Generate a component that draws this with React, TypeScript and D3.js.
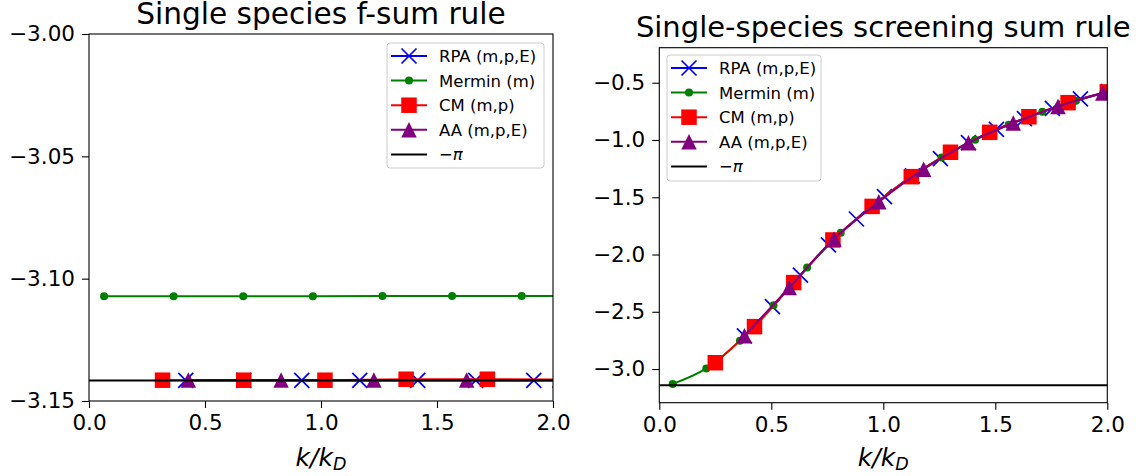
import React, { useEffect, useRef } from "react";
import * as d3 from "d3";

const width = 1138,
  height = 476;

const kTicks = [0, 0.5, 1.0, 1.5, 2.0];

// left panel: single species f-sum rule
const fsumYTicks = [-3.15, -3.1, -3.05, -3.0];
const fsumRpaK = [0.417, 0.667, 0.917, 1.167, 1.417, 1.667, 1.917, 2.167];
const fsumRpa = [-3.1416, -3.1416, -3.1416, -3.1416, -3.1416, -3.1416, -3.1416, -3.1416];
const fsumMerminK = [0.065, 0.365, 0.665, 0.965, 1.265, 1.565, 1.865, 2.165];
const fsumMermin = [-3.1072, -3.1072, -3.1072, -3.1072, -3.1071, -3.1071, -3.1071, -3.1071];
const fsumCmK = [0.317, 0.667, 1.017, 1.367, 1.717, 2.067];
const fsumCm = [-3.1415, -3.1415, -3.1415, -3.1411, -3.1411, -3.1412];
const fsumAaK = [0.428, 0.828, 1.228, 1.628, 2.028];
const fsumAa = [-3.1414, -3.1414, -3.1414, -3.1414, -3.1414];

// right panel: single-species screening sum rule
const scrYTicks = [-3.0, -2.5, -2.0, -1.5, -1.0, -0.5];
const scrRpaK = [0.38, 0.505, 0.63, 0.755, 0.88, 1.005, 1.13, 1.255, 1.38, 1.505, 1.63, 1.755, 1.88, 2.005];
const scrRpa = [-2.71, -2.455, -2.18, -1.915, -1.69, -1.495, -1.313, -1.163, -1.023, -0.908, -0.813, -0.723, -0.641, -0.577];
const scrMerminK = [0.06, 0.21, 0.36, 0.51, 0.66, 0.81, 0.96, 1.11, 1.26, 1.41, 1.56, 1.71, 1.86, 2.01];
const scrMermin = [-3.13, -2.995, -2.753, -2.443, -2.113, -1.81, -1.564, -1.341, -1.152, -0.998, -0.866, -0.754, -0.658, -0.575];
const scrCmK = [0.25, 0.425, 0.6, 0.775, 0.95, 1.125, 1.3, 1.475, 1.65, 1.825, 2.0];
const scrCm = [-2.945, -2.63, -2.245, -1.873, -1.58, -1.32, -1.107, -0.933, -0.797, -0.674, -0.58];
const scrAaK = [0.38, 0.58, 0.78, 0.98, 1.18, 1.38, 1.58, 1.78, 1.98, 2.18];
const scrAa = [-2.71, -2.289, -1.864, -1.54, -1.255, -1.025, -0.852, -0.707, -0.59, -0.49];

const legendLabels = ["RPA (m,p,E)", "Mermin (m)", "CM (m,p)", "AA (m,p,E)"];
const colors = ["#0000ff", "#008000", "#ff0000", "#800080"];
const markers = ["x", "dot", "square", "triangle"];

const FONT = "DejaVu Sans, sans-serif";

function drawMarker(g, type, cx, cy, color) {
  if (type === "x") {
    const h = 7.5;
    g.append("path")
      .attr("d", `M${cx - h},${cy - h}L${cx + h},${cy + h}M${cx - h},${cy + h}L${cx + h},${cy - h}`)
      .attr("stroke", color)
      .attr("stroke-width", 1.7)
      .attr("fill", "none");
  } else if (type === "dot") {
    g.append("circle").attr("cx", cx).attr("cy", cy).attr("r", 4).attr("fill", color);
  } else if (type === "square") {
    g.append("rect")
      .attr("x", cx - 7.75)
      .attr("y", cy - 7.75)
      .attr("width", 15.5)
      .attr("height", 15.5)
      .attr("fill", color);
  } else {
    const h = 7.75;
    g.append("path")
      .attr("d", `M${cx},${cy - h}L${cx - h},${cy + h}L${cx + h},${cy + h}Z`)
      .attr("fill", color);
  }
}

function drawPanel(svg, p) {
  const x = d3.scaleLinear().domain([0, 2]).range([p.left, p.right]);
  const y = d3.scaleLinear().domain(p.yDomain).range([p.bottom, p.top]);

  svg
    .append("clipPath")
    .attr("id", p.id)
    .append("rect")
    .attr("x", p.left)
    .attr("y", p.top)
    .attr("width", p.right - p.left)
    .attr("height", p.bottom - p.top);

  const plot = svg.append("g").attr("clip-path", `url(#${p.id})`);
  const line = d3
    .line()
    .x((d) => x(d[0]))
    .y((d) => y(d[1]))
    .curve(p.smooth ? d3.curveMonotoneX : d3.curveLinear);

  p.series.forEach((s, i) => {
    const pts = s.k.map((k, j) => [k, s.v[j]]);
    plot
      .append("path")
      .datum(pts)
      .attr("d", line)
      .attr("fill", "none")
      .attr("stroke", colors[i])
      .attr("stroke-width", 2);
    pts.forEach((d) => drawMarker(plot, markers[i], x(d[0]), y(d[1]), colors[i]));
  });

  // -pi reference
  plot
    .append("line")
    .attr("x1", p.left)
    .attr("x2", p.right)
    .attr("y1", y(-Math.PI))
    .attr("y2", y(-Math.PI))
    .attr("stroke", "black")
    .attr("stroke-width", 2);

  // axes
  const xAxis = svg
    .append("g")
    .attr("transform", `translate(0,${p.bottom})`)
    .call(d3.axisBottom(x).tickValues(kTicks).tickFormat(d3.format(".1f")).tickSize(7).tickPadding(7));
  const yAxis = svg
    .append("g")
    .attr("transform", `translate(${p.left},0)`)
    .call(d3.axisLeft(y).tickValues(p.yTicks).tickFormat(d3.format(p.yFormat)).tickSize(7).tickPadding(7));
  [xAxis, yAxis].forEach((a) => {
    a.select(".domain").remove();
    a.selectAll("line").attr("stroke", "black").attr("stroke-width", 1.1);
    a.selectAll("text").attr("font-family", FONT).attr("font-size", 21.5).attr("fill", "black");
  });

  svg
    .append("rect")
    .attr("x", p.left)
    .attr("y", p.top)
    .attr("width", p.right - p.left)
    .attr("height", p.bottom - p.top)
    .attr("fill", "none")
    .attr("stroke", "black")
    .attr("stroke-width", 1.1);

  svg
    .append("text")
    .attr("x", (p.left + p.right) / 2)
    .attr("y", p.titleY)
    .attr("text-anchor", "middle")
    .attr("font-family", FONT)
    .attr("font-size", p.titleSize)
    .text(p.title);

  const xl = svg
    .append("text")
    .attr("x", (p.left + p.right) / 2)
    .attr("y", 466)
    .attr("text-anchor", "middle")
    .attr("font-family", FONT)
    .attr("font-size", 25)
    .attr("font-style", "italic")
    .text("k/k");
  xl.append("tspan").attr("font-size", 17.5).attr("dy", 4).text("D");

  // legend
  const lg = p.legend;
  svg
    .append("rect")
    .attr("x", lg.x)
    .attr("y", lg.y)
    .attr("width", lg.w)
    .attr("height", lg.h)
    .attr("rx", 3)
    .attr("fill", "white")
    .attr("fill-opacity", 0.8)
    .attr("stroke", "#cccccc")
    .attr("stroke-width", 1);
  const rows = legendLabels.concat(["pi"]);
  rows.forEach((lab, i) => {
    const cy = lg.y + 13 + i * 24.6;
    const hx0 = lg.x + 4,
      hx1 = lg.x + 40;
    const c = i < 4 ? colors[i] : "black";
    svg
      .append("line")
      .attr("x1", hx0)
      .attr("x2", hx1)
      .attr("y1", cy)
      .attr("y2", cy)
      .attr("stroke", c)
      .attr("stroke-width", 2);
    if (i < 4) drawMarker(svg, markers[i], (hx0 + hx1) / 2, cy, c);
    const t = svg
      .append("text")
      .attr("x", lg.x + 52)
      .attr("y", cy + 6)
      .attr("font-family", FONT)
      .attr("font-size", 16.5);
    if (i < 4) t.text(lab);
    else {
      t.append("tspan").text("\u2212");
      t.append("tspan").attr("font-style", "italic").text("\u03c0");
    }
  });
}

export default function App() {
  const ref = useRef(null);

  useEffect(() => {
    const svg = d3.select(ref.current);
    svg.selectAll("*").remove();

    drawPanel(svg, {
      id: "clipL",
      left: 89,
      right: 553,
      top: 34,
      bottom: 401,
      yDomain: [-3.15, -3.0],
      yTicks: fsumYTicks,
      yFormat: ".2f",
      smooth: false,
      title: "Single species f-sum rule",
      titleY: 24,
      titleSize: 29.6,
      series: [
        { k: fsumRpaK, v: fsumRpa },
        { k: fsumMerminK, v: fsumMermin },
        { k: fsumCmK, v: fsumCm },
        { k: fsumAaK, v: fsumAa },
      ],
      legend: { x: 387, y: 43, w: 157, h: 125 },
    });

    drawPanel(svg, {
      id: "clipR",
      left: 659.3,
      right: 1107.3,
      top: 47.7,
      bottom: 402.7,
      yDomain: [-3.294, -0.194],
      yTicks: scrYTicks,
      yFormat: ".1f",
      smooth: true,
      title: "Single-species screening sum rule",
      titleY: 37,
      titleSize: 29,
      series: [
        { k: scrRpaK, v: scrRpa },
        { k: scrMerminK, v: scrMermin },
        { k: scrCmK, v: scrCm },
        { k: scrAaK, v: scrAa },
      ],
      legend: { x: 667, y: 55, w: 154, h: 126 },
    });
  }, []);

  return (
    <div style={{ position: "absolute", left: 0, top: 0 }}>
      <svg ref={ref} width={width} height={height} style={{ display: "block", background: "white" }}></svg>
    </div>
  );
}
